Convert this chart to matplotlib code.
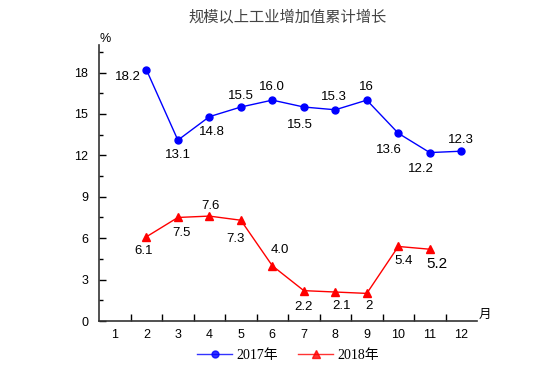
import matplotlib
matplotlib.use("Agg")
from matplotlib import pyplot as plt
from matplotlib.ticker import MultipleLocator

plt.rcParams['font.family'] = ['Liberation Sans', 'Noto Sans CJK SC']

months = list(range(1, 13))
months_2017 = [2, 3, 4, 5, 6, 7, 8, 9, 10, 11, 12]
growth_2017 = [18.2, 13.1, 14.8, 15.5, 16.0, 15.5, 15.3, 16, 13.6, 12.2, 12.3]
labels_2017 = ["18.2", "13.1", "14.8", "15.5", "16.0", "15.5", "15.3", "16", "13.6", "12.2", "12.3"]
months_2018 = [2, 3, 4, 5, 6, 7, 8, 9, 10, 11]
growth_2018 = [6.1, 7.5, 7.6, 7.3, 4.0, 2.2, 2.1, 2, 5.4, 5.2]
labels_2018 = ["6.1", "7.5", "7.6", "7.3", "4.0", "2.2", "2.1", "2", "5.4", "5.2"]

# label offsets in pixels (dx, dy), dy up positive
off_2017 = [(-19, -7), (0, -15), (3, -15), (0, 11), (0, 13), (-4, -18), (-1, 13), (0, 13), (-9, -17), (-9, -16), (0, 11)]
off_2018 = [(-3, -14), (4, -16), (1, 10), (-5, -19), (8, 16), (0, -16), (6, -14), (2, -13), (5, -15), (7, -15)]

fig = plt.figure(figsize=(5.54, 3.87), dpi=100)
ax = fig.add_axes([0.179, 0.1705, 0.682, 0.7135])

ax.plot(months_2017, growth_2017, color='#0000FF', marker='o', markersize=5, lw=1, label='2017年')
ax.plot(months_2018, growth_2018, color='#FF0000', marker='^', markersize=6, lw=1, label='2018年')

for m, v, t, o in zip(months_2017, growth_2017, labels_2017, off_2017):
    ax.annotate(t, (m, v), xytext=o, textcoords='offset pixels', ha='center', va='center', fontsize=9.5)
for i, (m, v, t, o) in enumerate(zip(months_2018, growth_2018, labels_2018, off_2018)):
    fs = 11 if i == len(months_2018) - 1 else 9.5
    ax.annotate(t, (m, v), xytext=o, textcoords='offset pixels', ha='center', va='center', fontsize=fs)

ax.set_xlim(0.5, 12.5)
ax.set_ylim(0, 20)
ax.set_xticks(months)
ax.set_xticklabels([str(m) for m in months])
ax.set_xticks([m + 0.5 for m in months[:-1]], minor=True)
ax.yaxis.set_major_locator(MultipleLocator(3))
ax.yaxis.set_minor_locator(MultipleLocator(1.5))
ax.tick_params(axis='x', which='major', length=0, pad=6, labelsize=9)
ax.tick_params(axis='x', which='minor', direction='in', length=5, width=1)
ax.tick_params(axis='y', which='major', direction='in', length=5, width=1, labelsize=9, pad=8)
ax.tick_params(axis='y', which='minor', direction='in', length=3, width=1)

for s in ['top', 'right']:
    ax.spines[s].set_visible(False)
for s in ['left', 'bottom']:
    ax.spines[s].set_linewidth(1.2)
    ax.spines[s].set_color('#333333')

ax.text(0.0, 1.0, '%', transform=ax.transAxes, ha='left', va='bottom', fontsize=9)
ax.text(1.005, 0.0, '月', transform=ax.transAxes, ha='left', va='bottom', fontsize=9)

fig.text(0.52, 0.955, '规模以上工业增加值累计增长', ha='center', va='center', fontsize=11,
         color='#444444', family=['Noto Sans CJK SC'])

leg = ax.legend(loc='center', bbox_to_anchor=(0.5, -0.125), ncol=2, frameon=False,
                handlelength=2.5, columnspacing=1.5, handletextpad=0.3,
                prop={'family': ['Liberation Serif', 'Noto Sans CJK SC'], 'size': 10})
for line in leg.get_lines():
    line.set_alpha(0.8)

fig.savefig('out.png', dpi=100)
